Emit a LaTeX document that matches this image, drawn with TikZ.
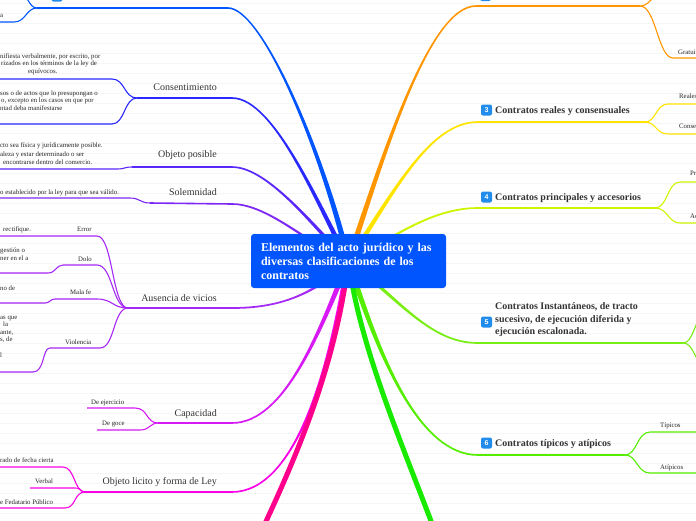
\documentclass[tikz,border=0pt]{standalone}
\usepackage{fontspec}
\setmainfont{Liberation Serif}
\setsansfont{Liberation Sans}
\usetikzlibrary{calc}
\definecolor{cCenter}{RGB}{0,85,255}
\definecolor{cIcon}{RGB}{33,140,235}
\definecolor{cTxt}{RGB}{51,51,51}
\definecolor{cB1}{RGB}{0,85,255}
\definecolor{cB2}{RGB}{40,40,255}
\definecolor{cB3}{RGB}{90,40,250}
\definecolor{cB4}{RGB}{125,40,245}
\definecolor{cB5}{RGB}{165,40,245}
\definecolor{cB6}{RGB}{215,25,245}
\definecolor{cB7}{RGB}{250,0,230}
\definecolor{cB8}{RGB}{255,0,140}
\definecolor{cR1}{RGB}{255,150,0}
\definecolor{cR2}{RGB}{255,228,0}
\definecolor{cR3}{RGB}{205,245,0}
\definecolor{cR4}{RGB}{120,238,20}
\definecolor{cR5}{RGB}{85,238,0}
\definecolor{cR6}{RGB}{25,235,0}
\tikzset{
	root/.style  ={rectangle, rounded corners=3pt, fill=cCenter, text=white, font=\fontsize{12}{14}\selectfont\bfseries, minimum width=195pt, minimum height=54pt, text width=175pt, align=left, inner sep=0pt},
	topic/.style ={font=\fontsize{10}{12}\selectfont, text=cTxt, inner sep=0pt, anchor=base east},
	btopic/.style={font=\fontsize{10}{12.5}\selectfont\bfseries, text=cTxt, inner sep=0pt, anchor=base west, align=left},
	tag/.style   ={font=\fontsize{6.8}{7.6}\selectfont, text=black!85, inner sep=0pt, anchor=base west},
	icon/.style  ={rectangle, rounded corners=2pt, fill=cIcon, text=white, font=\sffamily\bfseries\fontsize{7}{7}\selectfont, minimum size=11pt, inner sep=0pt},
	uline/.style ={line width=1.6pt},
	twig/.style  ={line width=1.1pt},
	stem/.style  ={line width=5pt},
	ruling/.style={black!4, line width=0.5pt},
}
% tapered main branch: colour, control 1, control 2, end, side
\newcommand\trunk[5]{%
	\fill[#1] ($(o)+(-3,0)$) .. controls ($#2+(-2,0)$) and ($#3+(0,{(#5)*1.2})$) .. ($(#4)+(0,{(#5)*0.8})$)
		-- ($(#4)+(0,{-(#5)*0.8})$) .. controls ($#3+(0,{-(#5)*1.2})$) and ($#2+(2,0)$) .. ($(o)+(3,0)$) -- cycle;}

\begin{document}
\begin{tikzpicture}[x=1pt, y=-1pt]
	\useasboundingbox (0,0) rectangle (696,520);
	\clip (0,0) rectangle (696,520);
	\foreach \yy in {3,13,...,513} \draw[ruling] (0,\yy) -- (696,\yy);

	\coordinate (o) at (348.5,261);
	% left hubs
	\coordinate (t1) at (228,8);   \coordinate (h1) at (37,8);
	\coordinate (t2) at (232,98);  \coordinate (h2) at (137,98);
	\coordinate (t3) at (232,167); \coordinate (h3) at (132,167);
	\coordinate (t4) at (232,204); \coordinate (h4) at (150,203);
	\coordinate (t5) at (232,308); \coordinate (h5) at (128,308);
	\coordinate (t6) at (232,423); \coordinate (h6) at (158,423);
	\coordinate (t7) at (232,492); \coordinate (h7) at (85,492);
	% right hubs
	\coordinate (r1) at (476,6);   \coordinate (g1) at (640,6);
	\coordinate (r2) at (478,122); \coordinate (g2) at (645,122);
	\coordinate (r3) at (478,208); \coordinate (g3) at (655,208);
	\coordinate (r4) at (478,343); \coordinate (g4) at (683,343);
	\coordinate (r5) at (478,455); \coordinate (g5) at (625,455);
	\coordinate (pk) at (255,545); \coordinate (gr) at (440,545);

	\trunk{cB1}{(322,150)}{(262,8)}{t1}{1}
	\trunk{cB2}{(320,210)}{(275,98)}{t2}{1}
	\trunk{cB3}{(320,235)}{(270,167)}{t3}{1}
	\trunk{cB4}{(315,250)}{(270,204)}{t4}{1}
	\trunk{cB5}{(310,300)}{(270,308)}{t5}{-1}
	\trunk{cB6}{(320,330)}{(285,423)}{t6}{-1}
	\trunk{cB7}{(330,370)}{(295,492)}{t7}{-1}
	\trunk{cR1}{(385,150)}{(430,6)}{r1}{-1}
	\trunk{cR2}{(395,190)}{(430,122)}{r2}{-1}
	\trunk{cR3}{(390,240)}{(430,208)}{r3}{-1}
	\trunk{cR4}{(400,300)}{(430,343)}{r4}{1}
	\trunk{cR5}{(380,360)}{(420,455)}{r5}{1}
	\draw[stem, cB8] (o) .. controls (335,370) and (295,460) .. (pk);
	\draw[stem, cR6] (o) .. controls (360,350) and (405,450) .. (gr);

	\foreach \a/\b/\c in {h1/t1/cB1, h2/t2/cB2, h3/t3/cB3, h4/t4/cB4, h5/t5/cB5, h6/t6/cB6, h7/t7/cB7,
		r1/g1/cR1, r2/g2/cR2, r3/g3/cR3, r4/g4/cR4, r5/g5/cR5}
		\draw[uline, \c] (\a) -- (\b);

	% left sub-branches
	\coordinate (e1a) at (0,-8);   \coordinate (e1b) at (0,22);
	\coordinate (e2a) at (0,79);   \coordinate (e2b) at (0,124);
	\coordinate (e3) at (0,169);   \coordinate (e4) at (0,198);
	\coordinate (e5a) at (0,236);  \coordinate (d5) at (63,265);  \coordinate (e5b) at (0,273);
	\coordinate (m5) at (55,299);  \coordinate (e5c) at (0,303);
	\coordinate (v5) at (50,348);  \coordinate (e5d) at (0,372);
	\coordinate (e6a) at (87,408); \coordinate (e6b) at (97,430);
	\coordinate (e7a) at (0,467);  \coordinate (e7b) at (30,488); \coordinate (e7c) at (0,508);
	\draw[twig, cB1] (h1) .. controls (28,8) and (28,-8) .. (18,-8) -- (e1a);
	\draw[twig, cB1] (h1) .. controls (26,8) and (26,22) .. (14,22) -- (e1b);
	\draw[twig, cB2] (h2) .. controls (124,98) and (125,79) .. (112,79) -- (e2a);
	\draw[twig, cB2] (h2) .. controls (124,98) and (125,124) .. (112,124) -- (e2b);
	\draw[twig, cB3] (h3) .. controls (124,167) and (125,169) .. (117,169) -- (e3);
	\draw[twig, cB4] (h4) .. controls (140,203) and (140,198) .. (130,198) -- (e4);
	\draw[twig, cB5] (h5) .. controls (112,308) and (113,236) .. (97,236) -- (e5a);
	\draw[twig, cB5] (h5) .. controls (112,308) and (113,265) .. (97,265) -- (d5);
	\draw[twig, cB5] (d5) .. controls (56,265) and (56,273) .. (48,273) -- (e5b);
	\draw[twig, cB5] (h5) .. controls (112,308) and (113,299) .. (97,299) -- (m5);
	\draw[twig, cB5] (m5) .. controls (50,299) and (50,303) .. (45,303) -- (e5c);
	\draw[twig, cB5] (h5) .. controls (113,308) and (115,348) .. (100,348) -- (v5);
	\draw[twig, cB5] (v5) .. controls (42,348) and (45,372) .. (33,372) -- (e5d);
	\draw[twig, cB6] (h6) .. controls (146,423) and (148,408) .. (135,408) -- (e6a);
	\draw[twig, cB6] (h6) .. controls (150,423) and (150,430) .. (140,430) -- (e6b);
	\draw[twig, cB7] (h7) .. controls (74,492) and (75,467) .. (63,467) -- (e7a);
	\draw[twig, cB7] (h7) .. controls (80,492) and (82,488) .. (75,488) -- (e7b);
	\draw[twig, cB7] (h7) .. controls (74,492) and (76,508) .. (65,508) -- (e7c);

	% right sub-branches
	\coordinate (f1a) at (696,-12); \coordinate (f1b) at (696,58);
	\coordinate (f2a) at (696,104); \coordinate (f2b) at (696,134);
	\coordinate (f3a) at (696,182); \coordinate (f3b) at (696,223);
	\coordinate (f4a) at (706,312); \coordinate (f4b) at (706,368);
	\coordinate (f5a) at (696,432); \coordinate (f5b) at (696,473);
	\draw[twig, cR1] (g1) .. controls (652,6) and (655,-12) .. (668,-12) -- (f1a);
	\draw[twig, cR1] (g1) .. controls (656,6) and (658,58) .. (673,58) -- (f1b);
	\draw[twig, cR2] (g2) .. controls (656,122) and (656,104) .. (668,104) -- (f2a);
	\draw[twig, cR2] (g2) .. controls (656,122) and (656,134) .. (668,134) -- (f2b);
	\draw[twig, cR3] (g3) .. controls (668,208) and (667,182) .. (680,182) -- (f3a);
	\draw[twig, cR3] (g3) .. controls (668,208) and (668,223) .. (680,223) -- (f3b);
	\draw[twig, cR4] (g4) .. controls (694,343) and (694,318) .. (f4a);
	\draw[twig, cR4] (g4) .. controls (694,343) and (694,362) .. (f4b);
	\draw[twig, cR5] (g5) .. controls (637,455) and (637,432) .. (650,432) -- (f5a);
	\draw[twig, cR5] (g5) .. controls (637,455) and (637,473) .. (650,473) -- (f5b);

	% centre
	\node[root] (ctr) at (o) {Elementos del acto jurídico y las\\ diversas clasificaciones de los\\ contratos};

	% left labels
	\node[topic] (cons) at (217,90.5)  {Consentimiento};
	\node[topic] (obj)  at (217,157.5) {Objeto posible};
	\node[topic] (sol)  at (217,195.5) {Solemnidad};
	\node[topic] (aus)  at (217,301.5) {Ausencia de vicios};
	\node[topic] (cap)  at (217,416.5) {Capacidad};
	\node[topic] (lic)  at (217,484.5) {Objeto licito y forma de Ley};
	\node[icon] (i1) at (57,-4) {};

	% text cut at the left edge
	\foreach \x/\y/\t [count=\i] in {
		0/17/a,
		0/58.7/{nifiesta verbalmente, por escrito, por},
		1/65.3/{rizados en los términos de la ley de},
		28/73/{equívocos.},
		0/95.3/{sos o de actos que lo presupongan o},
		1/102.7/{o, excepto en los casos en que por},
		0/110.3/{ntad deba manifestarse},
		0/147.7/{cto sea física y jurídicamente posible.},
		0/156/{aleza y estar determinado o ser},
		3/164/{encontrarse dentro del comercio.},
		0/194/{o establecido por la ley para que sea válido.},
		3/231/{rectifique.},
		0/252/{gestión o},
		0/260/{ner en el a},
		0/290/{no de},
		0/319/{as que},
		3/326.6/{la},
		0/334.2/{ante,},
		0/341.8/{s, de},
		0/357/{l},
		0/462/{rado de fecha cierta},
		0/504.5/{e Fedatario Público}}
		\node[tag] (lf\i) at (\x,\y) {\t};

	\node[tag] (err) at (77,231) {Error};
	\node[tag] (dol) at (78,261) {Dolo};
	\node[tag] (mal) at (70,294) {Mala fe};
	\node[tag] (vio) at (65,344) {Violencia};
	\node[tag] (dej) at (91,404) {De ejercicio};
	\node[tag] (dgo) at (102,425) {De goce};
	\node[tag] (ver) at (35,483) {Verbal};

	% right labels
	\node[icon] (i2) at (485.5,-4.5) {};
	\node[icon] (i3) at (486.5,110) {3};
	\node[btopic] (rc) at (495,113.5) {Contratos reales y consensuales};
	\node[icon] (i4) at (486.5,197) {4};
	\node[btopic] (pa) at (495,200.5) {Contratos principales y accesorios};
	\node[icon] (i5) at (486.5,322) {5};
	\node[btopic, anchor=north west, execute at begin node=\strut] (ti) at (495,302.8) {Contratos Instantáneos, de tracto\\sucesivo, de ejecución diferida y\\ejecución escalonada.};
	\node[icon] (i6) at (486.5,443) {6};
	\node[btopic] (ta) at (495,446.5) {Contratos típicos y atípicos};

	\node[tag] (gra) at (678,54)  {Gratuitos};
	\node[tag] (rea) at (679,98)  {Reales};
	\node[tag] (cns) at (679,128) {Consensuales};
	\node[tag] (pri) at (690,175) {Principales};
	\node[tag] (acc) at (690,218) {Accesorios};
	\node[tag] (tip) at (660,427) {Típicos};
	\node[tag] (ati) at (660,469) {Atípicos};
\end{tikzpicture}
\end{document}
